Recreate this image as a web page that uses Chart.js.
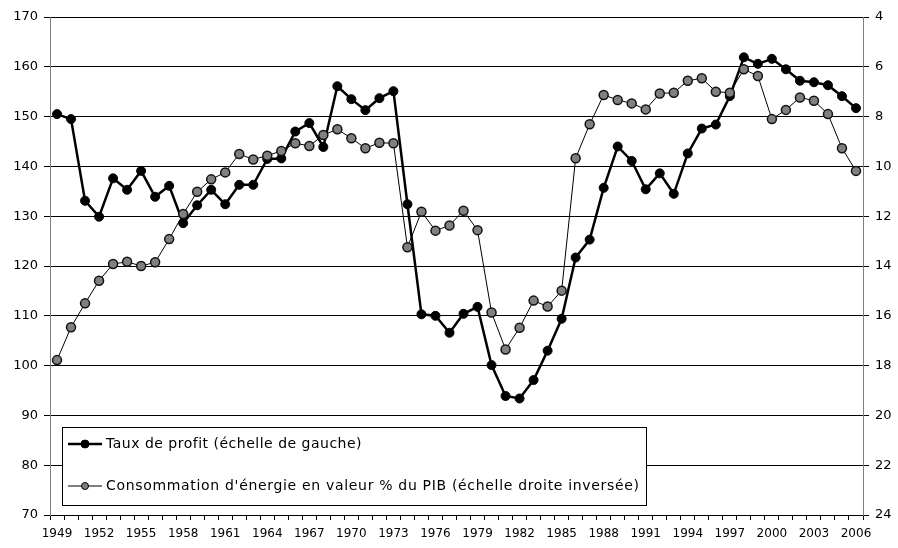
<!DOCTYPE html>
<html>
<head>
<meta charset="utf-8">
<script src="https://cdn.jsdelivr.net/npm/chart.js@4"></script>
<style>
body{margin:0;background:#fff}
canvas{display:block}
</style>
</head>
<body>
<canvas id="c" width="898" height="548"></canvas>
<script>
const years=[];
for(let y=1949;y<=2006;y++)years.push(String(y));

// taux de profit, échelle de gauche
const profit=[150.5,149.5,133.1,129.9,137.6,135.3,139.1,133.9,136.1,128.6,
 132.2,135.3,132.4,136.3,136.3,141.5,141.6,147.0,148.7,143.9,
 156.1,153.5,151.3,153.7,155.1,132.4,110.3,110.0,106.6,110.4,
 111.8,100.1,93.9,93.4,97.1,103.0,109.4,121.7,125.3,135.7,
 144.0,141.1,135.4,138.6,134.5,142.6,147.6,148.4,154.1,161.9,
 160.6,161.6,159.5,157.2,156.9,156.3,154.1,151.7];

// énergie en % du PIB, échelle droite inversée
const energy=[17.78,16.46,15.5,14.59,13.92,13.83,14.0,13.85,12.92,11.91,
 11.02,10.52,10.24,9.50,9.72,9.57,9.38,9.07,9.18,8.74,
 8.51,8.87,9.27,9.05,9.07,13.25,11.82,12.58,12.37,11.78,
 12.56,15.87,17.35,16.48,15.39,15.63,14.99,9.67,8.31,7.13,
 7.33,7.47,7.71,7.07,7.04,6.56,6.46,7.0,7.04,6.10,
 6.37,8.10,7.73,7.23,7.36,7.90,9.27,10.18];

const legendLabels=["Taux de profit (échelle de gauche)","Consommation d'énergie en valeur % du PIB (échelle droite inversée)"];

const FONT="DejaVu Sans";

/* légende dans le graphique */
const boxLegend={
 id:"boxLegend",
 afterDraw(chart){
  const ctx=chart.ctx;
  ctx.save();
  ctx.fillStyle="#fff";
  ctx.fillRect(62.5,427.5,584,78);
  ctx.strokeStyle="#000";
  ctx.lineWidth=1;
  ctx.strokeRect(62.5,427.5,584,78);

  const rows=[{y:444,lw:2.5,fill:"#000",r:4,w:256},{y:486,lw:1,fill:"#808080",r:3.5,w:534}];
  rows.forEach((s,i)=>{
   ctx.strokeStyle="#000";
   ctx.lineWidth=s.lw;
   ctx.beginPath();ctx.moveTo(68,s.y);ctx.lineTo(102,s.y);ctx.stroke();
   ctx.beginPath();ctx.arc(85,s.y,s.r,0,Math.PI*2);
   ctx.fillStyle=s.fill;ctx.fill();
   ctx.lineWidth=1;ctx.stroke();
   ctx.fillStyle="#000";
   ctx.font="14px '"+FONT+"'";
   ctx.textBaseline="middle";
   // le texte de l'original est un peu plus espacé
   const m=ctx.measureText(legendLabels[i]).width;
   const ls=(s.w-m)/legendLabels[i].length;
   if("letterSpacing" in ctx&&ls>0)ctx.letterSpacing=ls.toFixed(2)+"px";
   ctx.fillText(legendLabels[i],106,s.y);
   if("letterSpacing" in ctx)ctx.letterSpacing="0px";
  });
  ctx.restore();
 }
};

new Chart(document.getElementById("c"),{
 type:"line",
 data:{
  labels:years,
  datasets:[
   {label:legendLabels[0],data:profit,yAxisID:"y",order:2,
    borderColor:"#000",borderWidth:2.5,
    pointRadius:4.5,pointBackgroundColor:"#000",pointBorderColor:"#000",pointBorderWidth:1},
   {label:legendLabels[1],data:energy,yAxisID:"y2",order:1,
    borderColor:"#000",borderWidth:1,
    pointRadius:4.5,pointBackgroundColor:"#808080",pointBorderColor:"#111",pointBorderWidth:1.5}
  ]
 },
 options:{
  responsive:false,
  animation:false,
  layout:{padding:{top:17,left:0,right:0,bottom:0}},
  plugins:{legend:{display:false},tooltip:{enabled:false}},
  scales:{
   x:{
    offset:true,
    afterFit:s=>{s.height=33;},
    grid:{offset:true,drawOnChartArea:false,tickLength:5,color:"#000"},
    border:{color:"#000"},
    ticks:{autoSkip:false,maxRotation:0,padding:7,color:"#000",font:{family:FONT,size:12},
     callback:(v,i)=>i%3===0?years[i]:""}
   },
   y:{
    position:"left",min:70,max:170,
    afterFit:s=>{s.width=50;},
    grid:{color:"#000",tickLength:6},
    border:{color:"#808080"},
    ticks:{stepSize:10,padding:6,color:"#000",font:{family:FONT,size:13}}
   },
   y2:{
    position:"right",min:4,max:24,reverse:true,
    afterFit:s=>{s.width=35;},
    grid:{drawOnChartArea:false,color:"#000",tickLength:6},
    border:{color:"#808080"},
    ticks:{stepSize:2,padding:6,color:"#000",font:{family:FONT,size:13}}
   }
  }
 },
 plugins:[boxLegend]
});
</script>
</body>
</html>
